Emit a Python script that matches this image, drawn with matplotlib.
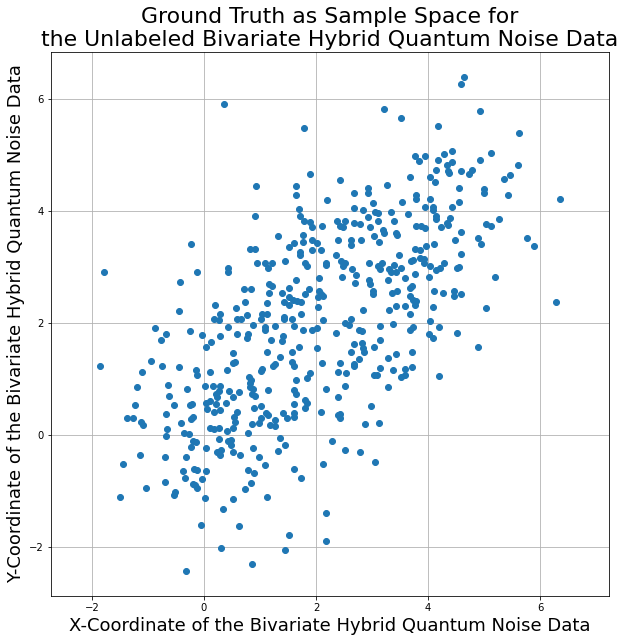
import matplotlib
matplotlib.use("Agg")
import matplotlib.pyplot as plt
import numpy as np

# Points, grouped by region (x, y)
pts_top = [
    (0.36, 5.92), (3.22, 5.82), (3.52, 5.67), (1.79, 5.48), (3.77, 4.99), (3.95, 4.99),
    (3.83, 4.89), (1.90, 4.67), (3.67, 4.60), (4.03, 4.61), (0.93, 4.44), (1.65, 4.44),
    (2.43, 4.55), (1.65, 4.28), (2.93, 4.42), (2.93, 4.32), (2.67, 4.32), (3.27, 4.46),
    (2.20, 4.19), (1.70, 4.03), (3.01, 4.14), (3.54, 4.17), (3.79, 4.28), (3.79, 4.21),
    (4.03, 4.21), (3.95, 4.08), (2.68, 4.05), (2.84, 4.01), (3.06, 3.98), (3.11, 3.96),
    (3.33, 3.98), (0.92, 3.92), (1.72, 3.91), (1.79, 3.83), (1.90, 3.81), (1.93, 3.71),
    (2.11, 3.73), (2.38, 3.82), (2.43, 3.74), (2.52, 3.82), (2.49, 3.71), (2.68, 3.78),
    (2.79, 3.76), (2.92, 3.89), (2.97, 3.71), (3.10, 3.82), (3.40, 3.83), (3.65, 3.94),
    (3.19, 3.67), (3.22, 3.60), (3.43, 3.60), (3.45, 3.57), (3.79, 3.74), (3.88, 3.73),
    (3.95, 3.69), (3.04, 3.55), (1.33, 3.55), (1.76, 3.58),
]
pts_top_right = [
    (4.65, 6.39), (4.58, 6.26), (4.92, 5.78), (4.18, 5.51), (5.63, 5.39), (4.43, 5.08),
    (4.29, 5.01), (4.18, 4.91), (4.42, 4.87), (4.33, 4.82), (5.13, 5.03), (4.92, 4.92),
    (5.61, 4.83), (4.15, 4.74), (4.35, 4.72), (4.37, 4.68), (4.59, 4.71), (4.79, 4.74),
    (4.74, 4.67), (5.36, 4.57), (5.47, 4.64), (4.12, 4.52), (4.56, 4.42), (4.99, 4.39),
    (4.99, 4.32), (5.43, 4.28), (6.36, 4.21), (4.56, 4.17), (4.42, 4.07), (4.08, 4.07),
    (4.08, 4.01), (4.15, 3.92), (4.15, 3.85), (4.40, 3.88), (5.27, 3.85), (5.04, 3.76),
    (5.13, 3.74), (4.24, 3.71), (4.33, 3.78), (4.36, 3.75), (4.59, 3.62), (4.49, 3.49),
    (4.90, 3.51), (5.77, 3.51),
]
pts_mid_left = [
    (-0.23, 3.42), (-1.78, 2.91), (-0.12, 2.92), (0.43, 2.99), (0.43, 2.92), (-0.42, 2.74),
    (-0.44, 2.21), (0.20, 2.33), (0.29, 2.17), (0.18, 2.08), (0.27, 2.05), (0.58, 2.26),
    (0.59, 2.07), (-0.87, 1.91), (-0.67, 1.80), (-0.76, 1.69), (-0.24, 1.85), (-0.03, 1.78),
    (0.04, 1.57), (0.13, 1.66), (0.29, 1.76), (0.43, 1.92), (0.59, 1.80), (0.52, 1.46),
    (0.51, 1.28), (0.56, 1.30), (-1.85, 1.23), (-0.94, 1.33), (-0.74, 1.24), (-1.10, 1.12),
    (-0.44, 1.21), (-0.14, 1.16), (-0.12, 1.07), (0.11, 1.12), (0.42, 1.16), (-0.64, 0.89),
    (-1.19, 0.85), (-0.30, 0.82), (0.01, 0.87), (0.17, 0.87), (0.29, 0.87), (0.22, 0.74),
    (0.27, 0.78), (0.24, 0.67), (0.45, 0.78), (0.63, 0.76), (0.51, 0.67), (-0.62, 0.69),
    (-1.23, 0.53), (-0.53, 0.53), (-0.24, 0.53), (-0.21, 0.56), (0.04, 0.58), (0.11, 0.60),
    (0.06, 0.46), (0.22, 0.55), (0.40, 0.58), (0.18, 0.41), (0.29, 0.44), (0.59, 0.41),
    (-0.67, 0.37), (-1.37, 0.30), (-1.26, 0.30), (-1.12, 0.23), (-1.08, 0.17), (-0.41, 0.21),
    (-0.23, 0.28), (-0.19, 0.32), (0.54, 0.32), (0.56, 0.23),
]
pts_center = [
    (1.52, 3.36), (1.61, 3.43), (1.77, 3.45), (1.92, 3.48), (2.02, 3.43), (2.40, 3.48),
    (2.63, 3.48), (2.63, 3.39), (2.81, 3.48), (3.13, 3.44), (0.83, 3.32), (0.92, 3.33),
    (1.72, 3.26), (1.72, 3.21), (1.93, 3.30), (2.09, 3.30), (2.36, 3.21), (0.95, 3.08),
    (1.09, 3.08), (1.15, 2.98), (1.22, 3.08), (1.45, 3.10), (1.81, 3.08), (1.84, 3.01),
    (2.17, 3.08), (2.18, 3.03), (2.45, 3.10), (2.49, 3.01), (2.51, 3.08), (2.65, 2.96),
    (2.72, 2.85), (2.70, 2.71), (2.95, 3.08), (3.10, 3.01), (3.15, 2.96), (3.18, 3.08),
    (2.47, 2.82), (2.06, 2.80), (1.65, 2.76), (1.17, 2.69), (1.22, 2.66), (0.72, 2.60),
    (0.84, 2.60), (1.17, 2.53), (1.40, 2.53), (1.52, 2.62), (1.52, 2.46), (1.59, 2.42),
    (1.66, 2.39), (1.74, 2.37), (1.43, 2.37), (1.51, 2.33), (1.81, 2.51), (1.88, 2.60),
    (2.06, 2.58), (2.09, 2.51), (2.13, 2.49), (2.04, 2.46), (0.74, 2.37), (1.13, 2.35),
    (2.04, 2.28), (2.84, 2.24), (2.95, 2.76), (2.97, 2.69), (3.02, 2.58), (3.02, 2.51),
    (3.28, 2.77), (1.04, 2.17), (1.13, 2.17), (0.76, 2.14), (0.67, 2.07), (1.02, 2.07),
    (1.43, 2.10), (1.43, 2.07), (1.58, 2.08), (1.74, 2.17), (2.13, 2.05), (2.63, 2.08),
    (2.52, 2.00), (2.59, 1.96), (3.15, 1.95), (0.88, 1.96), (1.09, 1.92), (1.09, 1.87),
    (1.27, 1.94), (1.61, 1.94), (1.76, 1.87), (1.92, 1.87), (2.01, 1.91), (2.36, 1.83),
    (2.76, 1.87), (2.83, 1.85), (0.79, 1.80), (0.76, 1.73), (1.20, 1.69), (1.42, 1.76),
    (1.40, 1.67), (1.70, 1.58), (2.01, 1.55), (2.67, 1.62), (2.83, 1.64), (2.84, 1.55),
    (2.86, 1.48), (2.63, 1.48), (3.04, 1.57), (3.15, 1.69), (1.13, 1.49), (1.36, 1.39),
    (1.58, 1.49), (1.58, 1.30), (1.61, 1.24), (1.04, 1.17), (1.01, 1.14), (1.24, 1.24),
    (1.27, 1.26), (2.11, 1.28), (2.43, 1.28), (2.67, 1.26), (2.68, 1.23), (2.77, 1.35),
    (2.40, 1.12), (2.54, 1.10), (3.04, 1.08), (3.09, 1.08), (3.15, 1.19), (0.81, 1.03),
    (0.84, 0.98), (0.83, 0.92), (1.65, 0.98), (1.84, 1.01), (1.90, 1.10),
]
pts_mid_right = [
    (4.11, 3.41), (4.95, 3.41), (5.90, 3.37), (3.49, 3.21), (3.77, 3.32), (3.86, 3.30),
    (3.97, 3.37), (4.58, 3.24), (3.31, 2.96), (3.40, 3.03), (3.33, 2.91), (3.42, 2.92),
    (3.51, 2.98), (3.59, 2.80), (3.70, 3.10), (3.74, 3.12), (3.86, 3.17), (3.93, 3.14),
    (3.92, 3.07), (4.04, 3.01), (3.77, 2.87), (4.01, 2.83), (4.15, 2.94), (4.22, 2.98),
    (4.29, 3.08), (4.52, 2.98), (4.56, 3.00), (5.20, 2.83), (3.67, 2.63), (3.71, 2.67),
    (3.36, 2.53), (3.45, 2.57), (3.67, 2.49), (3.74, 2.42), (3.79, 2.39), (3.77, 2.32),
    (4.11, 2.57), (4.27, 2.53), (4.47, 2.58), (4.47, 2.48), (4.58, 2.51), (3.31, 2.24),
    (3.42, 2.30), (3.58, 2.30), (3.68, 2.17), (4.09, 2.28), (5.04, 2.26), (4.04, 2.03),
    (4.20, 1.92), (3.38, 1.98), (3.67, 1.87), (3.74, 1.92), (4.01, 1.80), (4.08, 1.74),
    (4.52, 1.83), (4.90, 1.58), (3.43, 1.44), (3.29, 1.37), (3.72, 1.48), (3.38, 1.16),
    (3.59, 1.17), (3.58, 1.08), (3.52, 1.03), (3.72, 1.21), (4.20, 1.05), (3.29, 0.86),
    (6.29, 2.37),
]
pts_low_left = [
    (-0.66, 0.10), (-0.67, -0.02), (-0.35, 0.03), (-0.26, 0.01), (0.11, 0.12), (0.18, 0.10),
    (0.27, 0.12), (0.52, 0.12), (0.42, 0.07), (-0.19, -0.11), (-0.14, -0.13), (-0.23, -0.22),
    (0.27, -0.08), (0.43, -0.11), (0.49, -0.09), (0.49, -0.18), (0.04, -0.24), (0.24, -0.31),
    (0.29, -0.36), (0.31, -0.26), (0.51, -0.31), (0.65, -0.35), (-1.14, -0.36), (-1.44, -0.51),
    (-0.69, -0.40), (-0.32, -0.40), (-0.37, -0.65), (-0.17, -0.61), (-0.12, -0.63), (0.04, -0.65),
    (-0.33, -0.77), (-0.69, -0.84), (-0.04, -0.79), (-0.19, -0.88), (-0.16, -0.90), (-0.12, -0.95),
    (-1.03, -0.95), (-0.51, -1.01), (-0.53, -1.08), (-1.49, -1.11), (0.02, -1.13), (0.52, -1.15),
    (0.34, -1.33), (-0.05, -1.61), (0.63, -1.63), (0.31, -2.02), (-0.32, -2.43),
]
pts_low_mid = [
    (0.83, 0.85), (0.88, 0.82), (0.86, 0.74), (0.91, 0.69), (1.15, 0.80), (1.61, 0.80),
    (1.65, 0.73), (2.17, 0.82), (2.51, 0.87), (2.40, 0.67), (2.99, 0.51), (1.80, 0.62),
    (1.84, 0.57), (1.81, 0.48), (1.61, 0.55), (0.90, 0.49), (1.02, 0.51), (1.11, 0.39),
    (1.15, 0.35), (1.01, 0.30), (0.99, 0.21), (0.86, 0.19), (1.27, 0.26), (1.18, 0.17),
    (1.27, 0.16), (1.42, 0.39), (1.49, 0.30), (1.61, 0.39), (1.61, 0.33), (2.09, 0.41),
    (2.40, 0.35), (2.43, 0.37), (2.43, 0.30), (2.88, 0.19), (3.13, 0.21), (0.79, 0.03),
    (0.88, -0.24), (1.36, -0.06), (1.45, -0.18), (1.33, -0.29), (0.99, -0.40), (1.09, -0.54),
    (0.79, -0.63), (0.90, -0.68), (0.84, -0.86), (0.74, -0.97), (1.61, -0.61), (1.74, -0.77),
    (2.29, -0.11), (2.52, -0.26), (2.79, -0.31), (3.06, -0.49), (2.13, -0.52), (1.13, -1.11),
    (2.17, -1.40), (1.51, -1.79), (2.18, -1.90), (1.45, -2.06), (0.86, -2.31),
]

title_text = "Ground Truth as Sample Space for\nthe Unlabeled Bivariate Hybrid Quantum Noise Data"
xlabel_text = "X-Coordinate of the Bivariate Hybrid Quantum Noise Data"
ylabel_text = "Y-Coordinate of the Bivariate Hybrid Quantum Noise Data"

all_pts = np.array(pts_top + pts_top_right + pts_mid_left + pts_center +
                   pts_mid_right + pts_low_left + pts_low_mid)
x = all_pts[:, 0]
y = all_pts[:, 1]

W, H = 629, 642
fig = plt.figure(figsize=(W / 72, H / 72), dpi=72)
ax = fig.add_axes([51 / W, 1 - 596 / H, 558 / W, 544 / H])
ax.scatter(x, y, color="#1f77b4", zorder=3)
ax.set_xlim(-2.73, 7.23)
ax.set_ylim(-2.875, 6.84)
ax.grid(True, color="#b0b0b0", linewidth=0.8)
ax.set_axisbelow(True)
ax.set_title(title_text, fontsize=22)
ax.set_xlabel(xlabel_text, fontsize=18)
ax.set_ylabel(ylabel_text, fontsize=18)
ax.tick_params(labelsize=10)
fig.savefig("out.png", dpi=72)
